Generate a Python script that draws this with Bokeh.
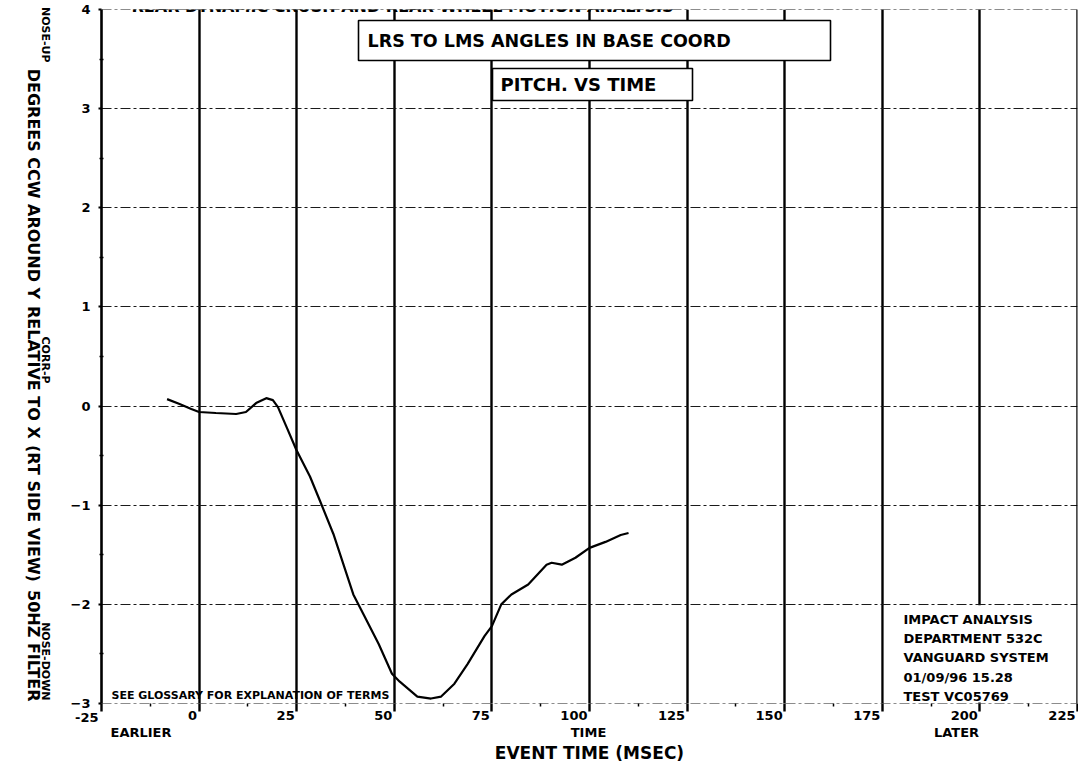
from bokeh.plotting import figure
from bokeh.models import (Range1d, FixedTicker, Label, BoxAnnotation, Span, LinearAxis)
from bokeh.embed import file_html
from bokeh.resources import INLINE
import math

# ---------------- data ----------------
time_ms = [-8.2, -5.0, -2.0, 0.0, 4.3, 9.5, 12.0, 14.6, 17.2, 18.9, 20.2, 22.5, 24.9,
           28.4, 30.9, 34.4, 39.5, 42.1, 46.0, 49.4, 51.4, 55.9, 59.4, 62.0, 65.4,
           68.8, 73.1, 75.0, 77.4, 80.0, 84.3, 89.0, 90.3, 92.9, 96.4, 100.0, 104.1,
           108.0, 110.0]
pitch_deg = [0.07, 0.02, -0.03, -0.06, -0.07, -0.08, -0.06, 0.03, 0.08, 0.06, -0.01,
             -0.22, -0.44, -0.71, -0.95, -1.29, -1.90, -2.10, -2.40, -2.70, -2.78,
             -2.93, -2.95, -2.93, -2.80, -2.60, -2.32, -2.22, -2.00, -1.90, -1.80,
             -1.60, -1.58, -1.60, -1.53, -1.43, -1.37, -1.30, -1.28]
x_ticks = [-25, 0, 25, 50, 75, 100, 125, 150, 175, 200, 225]
x_tick_labels = ["-25", "0", "25", "50", "75", "100", "125", "150", "175", "200", "225"]
y_ticks = [-3, -2, -1, 0, 1, 2, 3, 4]

title_text = "REAR DYNAMIC CRUSH AND REAR WHEEL MOTION ANALYSIS"
box1_text = "LRS TO LMS ANGLES IN BASE COORD"
box2_text = "PITCH. VS TIME"
info_lines = ["IMPACT ANALYSIS", "DEPARTMENT 532C", "VANGUARD SYSTEM", "01/09/96  15.28", "TEST  VC05769"]
glossary_text = "SEE GLOSSARY FOR EXPLANATION OF TERMS"
x_words = ["EARLIER", "TIME", "LATER"]
x_title = "EVENT TIME (MSEC)"
y_words = ["NOSE-UP", "CORR-P", "NOSE-DOWN"]
y_title_parts = ["DEGREES CCW AROUND Y", "RELATIVE TO X", "(RT SIDE VIEW)", "50HZ FILTER"]

# ---------------- layout geometry (canvas pixels) ----------------
FIG_W, FIG_H = 1078, 773
FL, FR, FT, FB = 101, 1077, 9, 703
X0, X1, Y0, Y1 = -25, 225, -3, 4
SX = (FR - FL) / (X1 - X0)
SY = (FB - FT) / (Y1 - Y0)

def dx(px):
    return X0 + (px - FL) / SX

def dy(py):
    return Y0 + (FB - py) / SY

FONT = "DejaVu Sans"
TICK_FS = 13

# approximate advance widths of DejaVu Sans Bold (em units)
EM = {"A": .774, "B": .762, "C": .734, "D": .830, "E": .683, "F": .683, "G": .821,
      "H": .837, "I": .372, "J": .372, "K": .775, "L": .637, "M": .995, "N": .837,
      "O": .850, "P": .733, "Q": .850, "R": .770, "S": .720, "T": .682, "U": .812,
      "V": .774, "W": 1.103, "X": .771, "Y": .724, "Z": .725, " ": .348, "(": .457,
      ")": .457, "-": .415, ".": .380, "/": .365}

def text_w(s, size):
    return sum(EM.get(c, .696) for c in s) * size

p = figure(width=FIG_W, height=FIG_H, x_range=Range1d(X0, X1), y_range=Range1d(Y0, Y1),
           output_backend="svg", toolbar_location=None,
           min_border_left=FL, min_border_right=FIG_W - FR,
           min_border_top=FT, min_border_bottom=FIG_H - FB)
p.outline_line_color = None
p.background_fill_color = "white"
p.border_fill_color = "white"

# grids
p.xgrid.ticker = FixedTicker(ticks=x_ticks)
p.xgrid.grid_line_color = "black"
p.xgrid.grid_line_width = 2.4
p.ygrid.ticker = FixedTicker(ticks=y_ticks)
p.ygrid.grid_line_color = "#1a1a1a"
p.ygrid.grid_line_width = 1.2
p.ygrid.grid_line_dash = "10 3 3 3"

def plain_axis(axis, standoff, size):
    axis.axis_line_color = None
    axis.major_tick_line_color = None
    axis.major_tick_out = 0
    axis.major_tick_in = 0
    axis.minor_tick_line_color = None
    axis.major_label_standoff = standoff
    axis.major_label_text_font = FONT
    axis.major_label_text_font_style = "bold"
    axis.major_label_text_font_size = size
    axis.major_label_text_color = "black"

def text_axis(positions, texts, standoff, size, orientation=None):
    a = LinearAxis(ticker=FixedTicker(ticks=positions, minor_ticks=[]),
                   major_label_overrides={pos: s for pos, s in zip(positions, texts)})
    if orientation is not None:
        a.major_label_orientation = orientation
    plain_axis(a, standoff, size)
    return a

# x axis 1: tick marks only
x_minor = [(a + b) / 2 for a, b in zip(x_ticks[:-1], x_ticks[1:])]
ax = p.xaxis[0]
ax.ticker = FixedTicker(ticks=x_ticks, minor_ticks=x_minor)
ax.axis_line_color = None
ax.major_tick_line_color = "black"
ax.major_tick_line_width = 2.4
ax.major_tick_out = 8
ax.major_tick_in = 0
ax.minor_tick_line_color = "black"
ax.minor_tick_line_width = 1.5
ax.minor_tick_out = 3
ax.minor_tick_in = 0
ax.major_label_overrides = {t: "" for t in x_ticks}
ax.major_label_standoff = 0

# x axis 2: tick labels placed just left of each grid line
def label_shift(s):
    return (text_w(s, TICK_FS) / 2 + 2) / SX

lab_pos = [t - label_shift(s) for t, s in zip(x_ticks[1:], x_tick_labels[1:])]
ax2 = text_axis(lab_pos, x_tick_labels[1:], -1, f"{TICK_FS}px")
p.add_layout(ax2, "below")

# x axis 3: EARLIER / TIME / LATER words and the axis title
word_pos = [dx(140.5), dx(588), dx(956)]
ax3 = text_axis(word_pos, x_words, 2, "13px")
ax3.axis_label = x_title
ax3.axis_label_text_font = FONT
ax3.axis_label_text_font_style = "bold"
ax3.axis_label_text_font_size = "17px"
ax3.axis_label_text_color = "black"
ax3.axis_label_standoff = 0
p.add_layout(ax3, "below")

# y axis
y_minor = [(a + b) / 2 for a, b in zip(y_ticks[:-1], y_ticks[1:])]
p.yaxis.ticker = FixedTicker(ticks=y_ticks, minor_ticks=y_minor)
p.yaxis.axis_line_color = "black"
p.yaxis.axis_line_width = 2.6
p.yaxis.major_tick_line_color = "black"
p.yaxis.major_tick_line_width = 2
p.yaxis.major_tick_out = 3
p.yaxis.major_tick_in = 0
p.yaxis.minor_tick_line_color = "black"
p.yaxis.minor_tick_line_width = 1.5
p.yaxis.minor_tick_out = 2
p.yaxis.minor_tick_in = 2
p.yaxis.major_label_standoff = 8
p.yaxis.major_label_text_font = FONT
p.yaxis.major_label_text_font_style = "bold"
p.yaxis.major_label_text_font_size = f"{TICK_FS}px"
p.yaxis.major_label_text_color = "black"

# "-25" label: second line of a label anchored at the x-axis corner
ay_m25 = text_axis([Y0], ["\n" + x_tick_labels[0]], -31, f"{TICK_FS}px")
ay_m25.major_label_text_line_height = 1.8
p.add_layout(ay_m25, "left")

# rotated y-axis title lines (read top to bottom; each text ends at its tick)
rot = -math.pi / 2
WORD_FS = 11
yw_pos = [dy(62), dy(383), dy(700)]
ay2 = text_axis(yw_pos, y_words, 22, f"{WORD_FS}px", orientation=rot)
p.add_layout(ay2, "left")

TITLE_FS = 16
space = text_w(" ", TITLE_FS)
total = sum(text_w(s, TITLE_FS) for s in y_title_parts) + space * (len(y_title_parts) - 1)
cursor = 701 - total
part_ends = []
for s in y_title_parts:
    cursor += text_w(s, TITLE_FS)
    part_ends.append(dy(cursor))
    cursor += space
ay3 = text_axis(part_ends, y_title_parts, -4, f"{TITLE_FS}px", orientation=rot)
p.add_layout(ay3, "left")

# frame edges
p.add_layout(Span(location=X1, dimension="height", line_color="black", line_width=2.4))
p.add_layout(Span(location=Y1, dimension="width", line_color="#1a1a1a", line_width=1.2, line_dash="10 3 3 3"))
p.add_layout(Span(location=Y0, dimension="width", line_color="#1a1a1a", line_width=1.2, line_dash="10 3 3 3"))

# curve
p.line(time_ms, pitch_deg, line_color="black", line_width=2.2)

# boxes
p.add_layout(BoxAnnotation(left=dx(358), right=dx(830), top=dy(20), bottom=dy(60),
                           fill_color="white", fill_alpha=1, line_color="black",
                           line_alpha=1, line_width=1.6))
p.add_layout(BoxAnnotation(left=dx(492), right=dx(692), top=dy(68), bottom=dy(100),
                           fill_color="white", fill_alpha=1, line_color="black",
                           line_alpha=1, line_width=1.6))
p.add_layout(BoxAnnotation(left=175.4, right=219.5, top=-2.01, bottom=-2.99,
                           fill_color="white", fill_alpha=1, line_color=None))

def lab(text, px, py, size, align="left", baseline="middle"):
    p.add_layout(Label(x=px, y=py, x_units="canvas", y_units="canvas", text=text,
                       text_font=FONT, text_font_style="bold",
                       text_font_size=size, text_color="black", text_align=align,
                       text_baseline=baseline))

lab(title_text, 131, 6, "16px", baseline="alphabetic")
lab(box1_text, 367, 40, "17.5px")
lab(box2_text, 500, 84, "18px")
for i, line in enumerate(info_lines):
    lab(line, 903, 619 + i * 19.2, "13px")
lab(glossary_text, 111, 695, "11px")

open("out.html", "w").write(file_html(p, INLINE))
